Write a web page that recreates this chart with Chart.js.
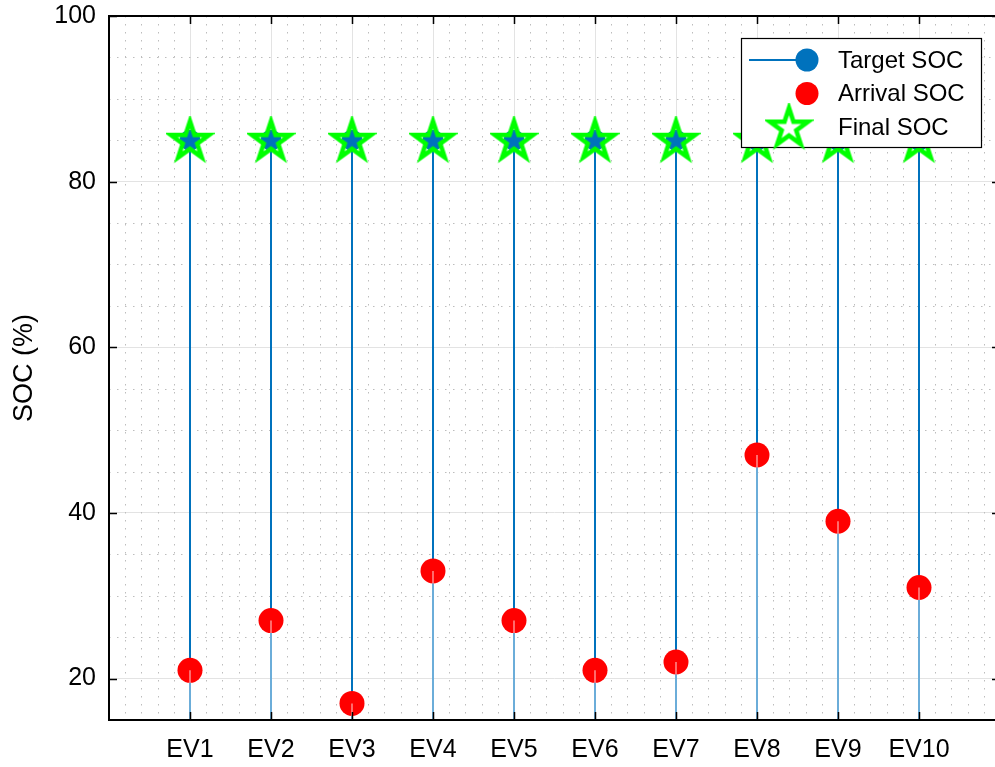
<!DOCTYPE html>
<html>
<head>
<meta charset="utf-8">
<title>SOC per EV</title>
<script src="https://cdn.jsdelivr.net/npm/chart.js@4.4.1/dist/chart.umd.min.js"></script>
<style>
  html, body { margin: 0; padding: 0; background: #fff; overflow: hidden; }
  #wrap { width: 1000px; height: 767px; }
</style>
</head>
<body>
<div id="wrap"><canvas id="c" width="1000" height="767"></canvas></div>
<script>
// ---- data ----
const categories  = ['EV1', 'EV2', 'EV3', 'EV4', 'EV5', 'EV6', 'EV7', 'EV8', 'EV9', 'EV10'];
const targetSOC   = [85, 85, 85, 85, 85, 85, 85, 85, 85, 85];
const arrivalSOC  = [21, 27, 17, 33, 27, 21, 22, 47, 39, 31];
const finalSOC    = [85, 85, 85, 85, 85, 85, 85, 85, 85, 85];
const yTickValues = [20, 40, 60, 80, 100];
const yRange      = [15, 100];
const xRange      = [0, 11];
const stemBase    = 0;      // stem baseline
const xMinorStep  = 0.2;
const yMinorStep  = 5;

// ---- styles ----
const BLUE  = '#0072BD';
const RED   = '#FF0000';
const GREEN = '#00FF00';
const FONT  = "'Liberation Sans', Arial, Helvetica, sans-serif";

// position of each category on the numeric x axis
const xPos = categories.map((_, i) => i + 1);

// stems as line segments broken by gaps
function stemSegments(tops) {
  const pts = [];
  tops.forEach((v, i) => {
    pts.push({ x: xPos[i], y: stemBase });
    pts.push({ x: xPos[i], y: v });
    pts.push({ x: xPos[i] + 0.5, y: null });
  });
  return pts;
}
const asPoints = vals => vals.map((v, i) => ({ x: xPos[i], y: v }));

// five-pointed star outline used as a point style
function makeStar(R, lw, color) {
  const size = Math.ceil(2 * R + lw + 4);
  const c = document.createElement('canvas');
  c.width = size; c.height = size;
  const g = c.getContext('2d');
  const cx = size / 2, cy = size / 2 + 1, r = R * 0.382;
  g.beginPath();
  for (let k = 0; k < 10; k++) {
    const a = -Math.PI / 2 + k * Math.PI / 5;
    const rr = k % 2 === 0 ? R : r;
    const px = cx + rr * Math.cos(a), py = cy + rr * Math.sin(a);
    k === 0 ? g.moveTo(px, py) : g.lineTo(px, py);
  }
  g.closePath();
  g.lineJoin = 'miter';
  g.lineWidth = lw;
  g.strokeStyle = color;
  g.stroke();
  return c;
}
const starMark   = makeStar(20, 4.5, GREEN);
const starLegend = makeStar(20, 4.5, GREEN);

// dotted minor grid
const minorGrid = {
  id: 'minorGrid',
  beforeDatasetsDraw(chart) {
    const { ctx, chartArea: a, scales: { x, y } } = chart;
    ctx.save();
    ctx.strokeStyle = '#bdbdbd';
    ctx.lineWidth = 1;
    ctx.setLineDash([1.5, 6.5]);
    const nx = Math.round((xRange[1] - xRange[0]) / xMinorStep);
    for (let k = 1; k < nx; k++) {
      if (k % Math.round(1 / xMinorStep) === 0) continue;
      const px = Math.round(x.getPixelForValue(xRange[0] + k * xMinorStep)) + 0.5;
      ctx.beginPath(); ctx.moveTo(px, a.top); ctx.lineTo(px, a.bottom); ctx.stroke();
    }
    for (let v = yRange[0] + yMinorStep; v < yRange[1]; v += yMinorStep) {
      if (v % 20 === 0) continue;
      const py = Math.round(y.getPixelForValue(v)) + 0.5;
      ctx.beginPath(); ctx.moveTo(a.left, py); ctx.lineTo(a.right, py); ctx.stroke();
    }
    ctx.restore();
  }
};

// axes box with inward ticks
const axesBox = {
  id: 'axesBox',
  afterDatasetsDraw(chart) {
    const { ctx, chartArea: a, scales: { x, y } } = chart;
    const tl = 8;
    ctx.save();
    ctx.strokeStyle = '#000';
    ctx.lineWidth = 2;
    ctx.beginPath();
    ctx.moveTo(a.left, a.top); ctx.lineTo(a.right, a.top);
    ctx.moveTo(a.left, a.bottom); ctx.lineTo(a.right, a.bottom);
    ctx.moveTo(a.left, a.top - 1); ctx.lineTo(a.left, a.bottom + 1);
    ctx.moveTo(a.right, a.top - 1); ctx.lineTo(a.right, a.bottom + 1);
    ctx.stroke();
    ctx.lineWidth = 1.5;
    ctx.beginPath();
    y.ticks.forEach(t => {
      const py = Math.round(y.getPixelForValue(t.value)) + 0.5;
      ctx.moveTo(a.left, py); ctx.lineTo(a.left + tl, py);
      ctx.moveTo(a.right, py); ctx.lineTo(a.right - tl, py);
    });
    x.ticks.forEach(t => {
      const px = Math.round(x.getPixelForValue(t.value)) + 0.5;
      ctx.moveTo(px, a.bottom); ctx.lineTo(px, a.bottom - tl);
      ctx.moveTo(px, a.top); ctx.lineTo(px, a.top + tl);
    });
    ctx.stroke();
    ctx.restore();
  }
};

// legend box in the upper right corner
const legendBox = {
  id: 'legendBox',
  afterDraw(chart) {
    const { ctx, chartArea: a } = chart;
    const w = 240, h = 109;
    const left = a.right - 19 - w, top = a.top + 22;
    ctx.save();
    ctx.fillStyle = '#fff';
    ctx.fillRect(left, top, w, h);
    ctx.strokeStyle = '#000';
    ctx.lineWidth = 1.2;
    ctx.strokeRect(left + 0.5, top + 0.5, w, h);

    const rows = [top + 22, top + 55.5, top + 89];
    const cx = left + 66;
    // Target SOC: line + circle
    ctx.strokeStyle = BLUE; ctx.lineWidth = 2;
    ctx.beginPath(); ctx.moveTo(left + 8, rows[0]); ctx.lineTo(cx, rows[0]); ctx.stroke();
    ctx.fillStyle = BLUE;
    ctx.beginPath(); ctx.arc(cx, rows[0], 11.5, 0, Math.PI * 2); ctx.fill();
    // Arrival SOC: circle
    ctx.fillStyle = RED;
    ctx.beginPath(); ctx.arc(cx, rows[1], 11.5, 0, Math.PI * 2); ctx.fill();
    // Final SOC: star
    ctx.drawImage(starLegend, left + 48 - starLegend.width / 2, rows[2] - starLegend.height / 2);

    ctx.fillStyle = '#000';
    ctx.font = '24px ' + FONT;
    ctx.textBaseline = 'middle';
    ctx.textAlign = 'left';
    const names = chart.data.datasets.filter(d => d.legendName).sort((p, q) => p.legendRank - q.legendRank);
    names.forEach((d, i) => ctx.fillText(d.legendName, left + 97, rows[i] + 1));
    ctx.restore();
  }
};

// fixed scale box sizes, no extra label overflow padding
function fixBox(size) {
  return s => {
    if (s.isHorizontal()) s.height = size; else s.width = size;
    s.paddingLeft = s.paddingRight = s.paddingTop = s.paddingBottom = 0;
  };
}

new Chart(document.getElementById('c'), {
  type: 'line',
  data: {
    datasets: [
      { // green star outlines (Final SOC)
        label: 'Final SOC', legendName: 'Final SOC', legendRank: 2,
        data: asPoints(finalSOC), showLine: false,
        pointStyle: starMark, pointRadius: 20, order: 1
      },
      { // blue markers on stem tops (Target SOC)
        label: 'Target SOC', legendName: 'Target SOC', legendRank: 0,
        data: asPoints(targetSOC), showLine: false,
        pointStyle: 'circle', pointRadius: 10.5, pointBorderWidth: 0,
        pointBackgroundColor: BLUE, order: 2
      },
      { // pale stems from the baseline up to the arrival values
        label: 'arrival stems',
        data: stemSegments(arrivalSOC), spanGaps: false,
        borderColor: 'rgba(255,255,255,0.7)', borderWidth: 1.2,
        pointRadius: 0, order: 3
      },
      { // red markers (Arrival SOC)
        label: 'Arrival SOC', legendName: 'Arrival SOC', legendRank: 1,
        data: asPoints(arrivalSOC), showLine: false,
        pointStyle: 'circle', pointRadius: 12.5, pointBorderWidth: 0,
        pointBackgroundColor: RED, order: 4
      },
      { // blue stems
        label: 'target stems',
        data: stemSegments(targetSOC), spanGaps: false,
        borderColor: BLUE, borderWidth: 2,
        pointRadius: 0, order: 5
      }
    ]
  },
  options: {
    responsive: false,
    animation: false,
    devicePixelRatio: 1,
    layout: { autoPadding: false, padding: { top: 16, right: 0, bottom: 0, left: 0 } },
    plugins: { legend: { display: false }, tooltip: { enabled: false } },
    events: [],
    scales: {
      x: {
        type: 'linear', min: xRange[0], max: xRange[1],
        afterBuildTicks: s => { s.ticks = xPos.map(v => ({ value: v })); },
        afterFit: fixBox(47),
        ticks: {
          callback: v => categories[Math.round(v) - 1] ?? '',
          font: { family: FONT, size: 25 }, color: '#000', padding: 15,
          maxRotation: 0, autoSkip: false
        },
        grid: { color: '#e3e3e3', lineWidth: 1, drawTicks: false },
        border: { display: false }
      },
      y: {
        type: 'linear', min: yRange[0], max: yRange[1],
        afterBuildTicks: s => { s.ticks = yTickValues.map(v => ({ value: v })); },
        afterFit: fixBox(109),
        ticks: {
          font: { family: FONT, size: 25 }, color: '#000', padding: 13
        },
        grid: { color: '#e3e3e3', lineWidth: 1, drawTicks: false },
        border: { display: false },
        title: {
          display: true, text: 'SOC (%)', color: '#000',
          font: { family: FONT, size: 27 }, padding: { top: 8, bottom: 0 }
        }
      }
    }
  },
  plugins: [minorGrid, axesBox, legendBox]
});
</script>
</body>
</html>
